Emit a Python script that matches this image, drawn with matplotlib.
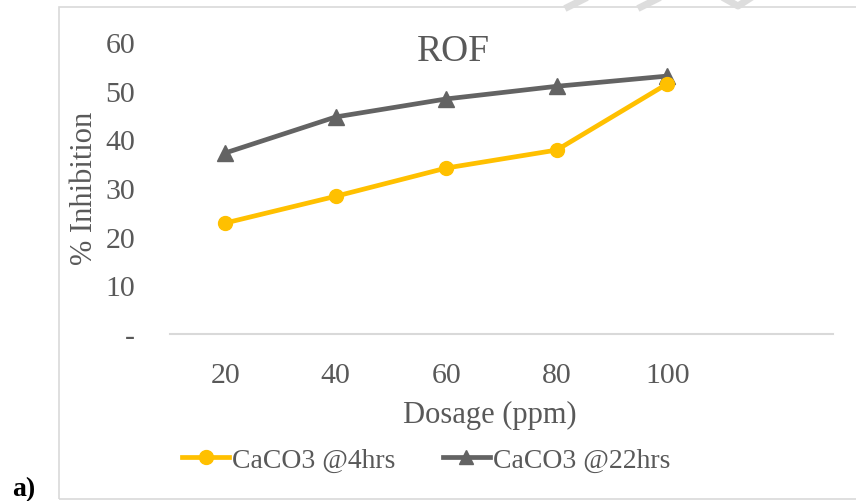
import matplotlib.pyplot as plt
from matplotlib.patches import Rectangle
from matplotlib.lines import Line2D

# dosage categories (last slot left empty on the axis)
dosage = ['20', '40', '60', '80', '100']
inhib_4hrs = [22.8, 28.3, 34.1, 37.8, 51.4]
inhib_22hrs = [37.2, 44.6, 48.3, 50.9, 53.0]
y_ticks = [0, 10, 20, 30, 40, 50, 60]
y_tick_labels = ['-', '10', '20', '30', '40', '50', '60']

plt.rcParams['font.family'] = ['Liberation Serif', 'DejaVu Serif']
text_grey = '#595959'
yellow = '#FFC000'
grey = '#636363'

W, H = 856, 502
fig = plt.figure(figsize=(W / 100, H / 100), dpi=100)

def fx(px):
    return px / W

def fy(py):
    return 1 - py / H

# chart border
fig.patches.append(Rectangle((fx(59), fy(500)), 1.0, fy(8) - fy(500),
                             transform=fig.transFigure, fill=False,
                             edgecolor='#D9D9D9', linewidth=1.2, zorder=0))

# bits of the page watermark peeking over the top edge
for x0, x1 in [(588, 568), (661, 641)]:
    fig.add_artist(Line2D([fx(x0), fx(x1)], [fy(-2), fy(8)], color='#DDDDDD',
                          linewidth=5, transform=fig.transFigure))
fig.add_artist(Line2D([fx(722), fx(738), fx(752)], [fy(-2), fy(7), fy(-2)],
                      color='#DDDDDD', linewidth=5, transform=fig.transFigure))

ax = fig.add_axes([fx(170), fy(335), fx(833) - fx(170), fy(43) - fy(335)])
x = list(range(len(dosage)))
ax.plot(x, inhib_4hrs, color=yellow, linewidth=3.4, marker='o', markersize=10,
        label='CaCO3 @4hrs', zorder=3)
ax.plot(x, inhib_22hrs, color=grey, linewidth=3.4, marker='^', markersize=11,
        label='CaCO3 @22hrs', zorder=2)

ax.set_xlim(-0.5, 5.5)
ax.set_ylim(0, 60)
ax.set_xticks(x)
ax.set_xticklabels(dosage)
ax.set_yticks(y_ticks)
ax.set_yticklabels(y_tick_labels)
ax.tick_params(axis='both', length=0, labelsize=21.5, labelcolor=text_grey)
ax.tick_params(axis='x', pad=20)
ax.tick_params(axis='y', pad=25)
for side in ['top', 'right', 'left']:
    ax.spines[side].set_visible(False)
ax.spines['bottom'].set_color('#D9D9D9')
ax.spines['bottom'].set_linewidth(1.5)
ax.patch.set_alpha(0)

fig.text(fx(453), fy(52), 'ROF', fontsize=27, color=text_grey,
         ha='center', va='center')
fig.text(fx(490), fy(415), 'Dosage (ppm)', fontsize=22, color=text_grey,
         ha='center', va='center')
fig.text(fx(84), fy(188), '% Inhibition', fontsize=22, color=text_grey,
         ha='center', va='center', rotation=90)

handles = [Line2D([], [], color=yellow, linewidth=3.4, marker='o', markersize=10),
           Line2D([], [], color=grey, linewidth=3.4, marker='^', markersize=10)]
fig.legend(handles, ['CaCO3 @4hrs', 'CaCO3 @22hrs'], loc='center',
           bbox_to_anchor=(fx(426), fy(461)), ncol=2, frameon=False,
           fontsize=20, labelcolor=text_grey, handlelength=1.7,
           handletextpad=0.1, columnspacing=1.7)

fig.text(fx(12), fy(490), 'a)', fontsize=20, fontweight='bold',
         color='black', ha='left', va='center')

fig.savefig('out.png', dpi=100)
